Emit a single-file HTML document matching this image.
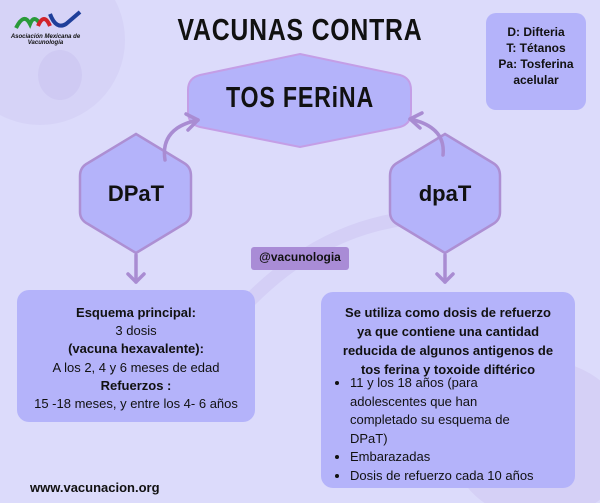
<!DOCTYPE html>
<html><head><meta charset="utf-8"><style>
body{margin:0;width:600px;height:503px;overflow:hidden;background:#dcdbfb;font-family:"Liberation Sans",sans-serif;}
.t{position:absolute;color:#111;white-space:nowrap;}
</style></head><body>
<svg width="600" height="503" style="position:absolute;left:0;top:0">
<circle cx="40" cy="40" r="85" fill="#d6d3f7"/>
<ellipse cx="60" cy="75" rx="22" ry="25" fill="#cfcaf3"/>
<ellipse cx="540" cy="440" rx="90" ry="80" fill="#d5d0f6"/>
<path d="M250 300 Q350 200 480 220" stroke="#d4cff6" stroke-width="14" fill="none"/>
<path d="M300 54 L400 75 Q411 78 411 90 L411 112 Q411 124 400 127 L300 147 L200 127 Q188 124 188 112 L188 90 Q188 78 200 75 Z" fill="#b4b3fa" stroke="#c49ee6" stroke-width="2"/>
<path d="M136 134 L184 163 Q191 167 191 176 L191 212 Q191 220 184 224 L136 253 L88 224 Q80 220 80 212 L80 176 Q80 167 88 163 Z" fill="#b4b3fa" stroke="#ad8fd3" stroke-width="2.5"/>
<path d="M445 134 L493 163 Q500 167 500 176 L500 212 Q500 220 493 224 L445 253 L397 224 Q390 220 390 212 L390 176 Q390 167 397 163 Z" fill="#b4b3fa" stroke="#ad8fd3" stroke-width="2.5"/>
<g stroke="#a98cd2" stroke-width="3.5" fill="none" stroke-linecap="round" stroke-linejoin="round">
<path d="M165 160 Q160 128 198 120"/><path d="M186 114 L198 120 L188 130"/>
<path d="M443 155 Q446 127 410 119"/><path d="M422 113 L410 119 L420 128"/>
<path d="M136 255 L136 282"/><path d="M128 274 L136 282 L144 274"/>
<path d="M445 255 L445 282"/><path d="M437 274 L445 282 L453 274"/>
</g>
<rect x="486" y="13" width="100" height="97" rx="10" fill="#b4b3fa"/>
<rect x="251" y="247" width="98" height="23" rx="3" fill="#a98cd6"/>
<rect x="17" y="290" width="238" height="132" rx="12" fill="#b4b3fa"/>
<rect x="321" y="292" width="254" height="196" rx="12" fill="#b4b3fa"/>
<path d="M16 28 Q24 12 30 24 Q34 14 40 24" stroke="#2a9a3a" stroke-width="4" fill="none"/>
<path d="M38 26 Q44 12 50 26" stroke="#d2232a" stroke-width="4" fill="none"/>
<path d="M50 14 Q56 30 66 24 L80 12" stroke="#1f3f9a" stroke-width="4" fill="none"/>
</svg>
<div class="t" style="left:8px;top:34px;width:75px;font-size:6px;font-weight:bold;font-style:italic;text-align:center;line-height:6px;white-space:normal">Asociación Mexicana de Vacunología</div>
<div class="t" style="left:100px;top:12px;width:400px;text-align:center;font-size:31px;font-weight:bold;letter-spacing:1px;transform:scaleX(0.8)">VACUNAS CONTRA</div>
<div class="t" style="left:100px;top:82px;width:400px;text-align:center;font-size:29px;font-weight:bold;letter-spacing:1px;transform:scaleX(0.8)">TOS FERiNA</div>
<div class="t" style="left:80px;top:181px;width:112px;text-align:center;font-size:22px;font-weight:bold">DPaT</div>
<div class="t" style="left:390px;top:181px;width:110px;text-align:center;font-size:22px;font-weight:bold">dpaT</div>
<div class="t" style="left:486px;top:24px;width:100px;text-align:center;font-size:12px;font-weight:bold;line-height:16px">D: Difteria<br>T: Tétanos<br>Pa: Tosferina<br>acelular</div>
<div class="t" style="left:251px;top:250px;width:98px;text-align:center;font-size:12px;font-weight:bold">@vacunologia</div>
<div class="t" style="left:17px;top:304px;width:238px;text-align:center;font-size:13px;line-height:18.2px"><b>Esquema principal:</b><br>3 dosis<br><b>(vacuna hexavalente):</b><br>A los 2, 4 y 6 meses de edad<br><b>Refuerzos :</b><br>15 -18 meses, y entre los 4- 6 años</div>
<div class="t" style="left:321px;top:303px;width:254px;text-align:center;font-size:13px;font-weight:bold;line-height:19px">Se utiliza como dosis de refuerzo<br>ya que contiene una cantidad<br>reducida de algunos antigenos de<br>tos ferina y toxoide diftérico</div>
<ul class="t" style="left:330px;top:374px;margin:0;padding-left:20px;font-size:13px;line-height:18.5px;width:240px">
<li>11 y los 18 años (para<br>adolescentes que han<br>completado su esquema de<br>DPaT)</li><li>Embarazadas</li><li>Dosis de refuerzo cada 10 años</li></ul>
<div class="t" style="left:30px;top:480px;font-size:13px;font-weight:bold">www.vacunacion.org</div>
</body></html>
